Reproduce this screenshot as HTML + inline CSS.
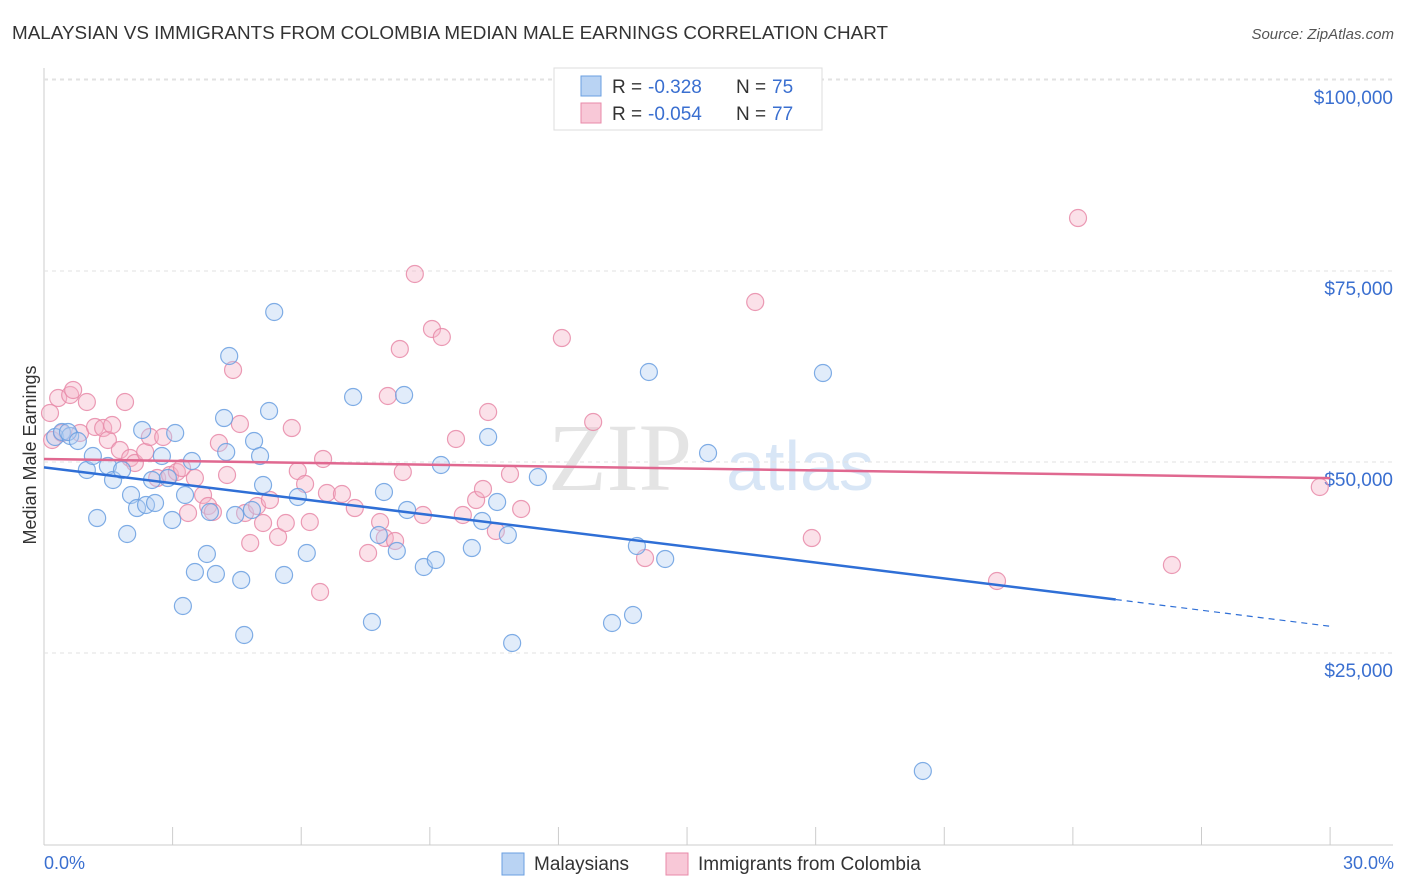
<!DOCTYPE html>
<html><head><meta charset="utf-8"><style>
body{margin:0;background:#fff;font-family:"Liberation Sans",sans-serif;}
svg{display:block}
</style></head><body>
<svg id="c" width="1406" height="892">
<text x="12" y="39" font-size="18" fill="#333" textLength="876" lengthAdjust="spacingAndGlyphs">MALAYSIAN VS IMMIGRANTS FROM COLOMBIA MEDIAN MALE EARNINGS CORRELATION CHART</text>
<text x="1394" y="39" font-size="15" fill="#555" text-anchor="end" font-style="italic">Source: ZipAtlas.com</text>
<text x="620" y="490" font-size="96" fill="#e4e4e4" font-family="Liberation Serif" text-anchor="middle">ZIP</text>
<text x="800" y="490" font-size="70" fill="#d8e6f6" text-anchor="middle">atlas</text>
<g id="grid"></g>
<g id="pts"></g>
<g id="lines"></g>
<text x="36" y="455" font-size="18" fill="#333" text-anchor="middle" transform="rotate(-90 36 455)">Median Male Earnings</text>
<text x="44" y="869" font-size="18" fill="#3a6fd0">0.0%</text>
<text x="1394" y="869" font-size="18" fill="#3a6fd0" text-anchor="end">30.0%</text>
<g>
<rect x="554" y="68" width="268" height="62" fill="#fff" stroke="#ddd"/>
<rect x="581" y="76" width="20" height="20" fill="#b9d3f3" stroke="#6a9fe0"/>
<rect x="581" y="103" width="20" height="20" fill="#f8c8d7" stroke="#e88aa8"/>
<text x="612" y="93" font-size="19" fill="#333">R =</text>
<text x="648" y="93" font-size="19" fill="#3a6fd0">-0.328</text>
<text x="736" y="93" font-size="19" fill="#333">N =</text>
<text x="772" y="93" font-size="19" fill="#3a6fd0">75</text>
<text x="612" y="120" font-size="19" fill="#333">R =</text>
<text x="648" y="120" font-size="19" fill="#3a6fd0">-0.054</text>
<text x="736" y="120" font-size="19" fill="#333">N =</text>
<text x="772" y="120" font-size="19" fill="#3a6fd0">77</text>
</g>
<g>
<rect x="502" y="853" width="22" height="22" fill="#b9d3f3" stroke="#6a9fe0"/>
<text x="534" y="870" font-size="19" fill="#333">Malaysians</text>
<rect x="666" y="853" width="22" height="22" fill="#f8c8d7" stroke="#e88aa8"/>
<text x="698" y="870" font-size="19" fill="#333">Immigrants from Colombia</text>
</g>
</svg>
<script>
const yTicks=[25000,50000,75000,100000];
const yTickLabels=["$25,000","$50,000","$75,000","$100,000"];
const xTicks=[0,3,6,9,12,15,18,21,24,27,30];
const bluePx=[[55,437],[62,432],[70,436],[68,432],[78,441],[87,470],[93,456],[97,518],[108,466],[113,480],[122,470],[127,534],[131,495],[137,508],[142,430],[146,505],[152,480],[155,503],[162,456],[168,478],[172,520],[175,433],[183,606],[185,495],[192,461],[195,572],[207,554],[210,512],[216,574],[224,418],[226,452],[229,356],[235,515],[241,580],[244,635],[252,510],[254,441],[260,456],[263,485],[269,411],[274,312],[284,575],[298,497],[307,553],[353,397],[372,622],[379,535],[384,492],[397,551],[404,395],[407,510],[424,567],[436,560],[441,465],[472,548],[482,521],[488,437],[497,502],[508,535],[512,643],[538,477],[612,623],[633,615],[637,546],[649,372],[665,559],[708,453],[823,373],[923,771]];
const pinkPx=[[50,413],[52,440],[58,398],[62,433],[70,395],[73,390],[80,433],[87,402],[95,427],[103,428],[108,440],[112,425],[120,450],[125,402],[130,458],[135,463],[145,452],[150,437],[157,478],[163,437],[170,475],[177,472],[182,468],[188,513],[195,478],[203,495],[208,506],[213,512],[219,443],[227,475],[233,370],[240,424],[245,513],[250,543],[257,506],[263,523],[270,500],[278,537],[286,523],[292,428],[298,471],[305,484],[310,522],[320,592],[323,459],[327,493],[342,494],[355,508],[368,553],[380,522],[385,538],[388,396],[395,541],[400,349],[403,472],[415,274],[423,515],[432,329],[442,337],[456,439],[463,515],[476,500],[483,489],[488,412],[496,531],[510,474],[521,509],[562,338],[593,422],[645,558],[755,302],[812,538],[997,581],[1078,218],[1172,565],[1320,487]];
const blueX=bluePx.map(p=>+((p[0]-44)/42.87).toFixed(2));
const blueY=bluePx.map(p=>Math.round((844-p[1])*130.9));
const pinkX=pinkPx.map(p=>+((p[0]-44)/42.87).toFixed(2));
const pinkY=pinkPx.map(p=>Math.round((844-p[1])*130.9));
const blueTrend=[49300,32000,28500];
const blueTrendX=[0,25,30];
const pinkTrend=[50400,47900];
const NS="http://www.w3.org/2000/svg";
const X=v=>44+v*42.87, Y=v=>844-v/130.9;
function mk(t,a,p){const e=document.createElementNS(NS,t);for(const k in a)e.setAttribute(k,a[k]);p.appendChild(e);return e;}
const g=document.getElementById('grid');
mk('line',{x1:44,y1:68,x2:44,y2:845,stroke:'#ccc'},g);
mk('line',{x1:44,y1:845,x2:1393,y2:845,stroke:'#ccc'},g);
mk('line',{x1:44,y1:79,x2:1393,y2:79,stroke:'#e2e2e2','stroke-dasharray':'4,4'},g);
yTicks.forEach((t,i)=>{
 const l=mk('line',{x1:44,y1:Y(t),x2:1393,y2:Y(t),stroke:'#e2e2e2','stroke-dasharray':'4,4'},g);
 
 
 const tx=mk('text',{x:1393,y:Y(t)+24,'font-size':19,fill:'#3a6fd0','text-anchor':'end'},g);
 tx.textContent=yTickLabels[i];
 
 
});
xTicks.forEach(t=>{
 const l=mk('line',{x1:X(t),y1:827,x2:X(t),y2:845,stroke:'#ccc'},g);
 
 
});
const pg=document.getElementById('pts');
function dots(xs,ys,fill,stroke,name){xs.forEach((x,i)=>{
 const c=mk('circle',{cx:X(x),cy:Y(ys[i]),r:8.5,fill:fill,'fill-opacity':0.4,stroke:stroke,'stroke-opacity':0.85,'stroke-width':1.2},pg);
 
 
});}
dots(pinkX,pinkY,'#f5b3c7','#e88aa8','colombia-point');
dots(blueX,blueY,'#b3cff2','#6a9fe0','malaysian-point');
const lg=document.getElementById('lines');
let b=mk('line',{x1:X(blueTrendX[0]),y1:Y(blueTrend[0]),x2:X(blueTrendX[1]),y2:Y(blueTrend[1]),stroke:'#2f6fd6','stroke-width':2.5},lg);


b=mk('line',{x1:X(blueTrendX[1]),y1:Y(blueTrend[1]),x2:X(blueTrendX[2]),y2:Y(blueTrend[2]),stroke:'#2f6fd6','stroke-width':1.2,'stroke-dasharray':'6,5'},lg);


b=mk('line',{x1:X(0),y1:Y(pinkTrend[0]),x2:X(30),y2:Y(pinkTrend[1]),stroke:'#e06890','stroke-width':2.5},lg);


</script>
</body></html>
